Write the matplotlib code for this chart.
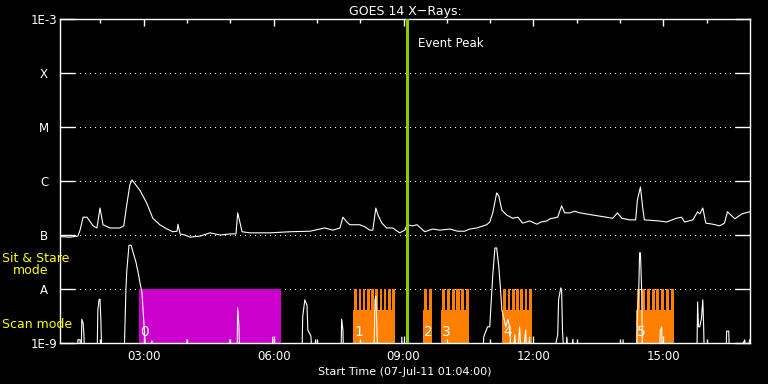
import numpy as np
import matplotlib
matplotlib.use("Agg")
import matplotlib.pyplot as plt

# time axis in hours of day (07-Jul-11), plot starts 01:04
t_start = 1 + 4 / 60.0
t_end = 17.0
event_peak = 9.08

# GOES 14 long channel (1-8 A), log10 of flux
long_t = [1.07, 1.30, 1.48, 1.53, 1.60, 1.69, 1.83, 1.92, 1.99, 2.06, 2.22, 2.45,
          2.54, 2.59, 2.68, 2.73, 2.91, 3.07, 3.21, 3.37, 3.54, 3.67, 3.77, 3.79,
          3.84, 3.95, 4.07, 4.30, 4.53, 4.76, 4.99, 5.13, 5.17, 5.22, 5.27, 5.45,
          5.91, 6.37, 6.84, 7.18, 7.37, 7.53, 7.60, 7.69, 7.76, 7.92, 7.99, 8.11,
          8.22, 8.29, 8.36, 8.41, 8.50, 8.61, 8.75, 8.91, 9.03, 9.08, 9.21, 9.31,
          9.49, 9.67, 9.84, 10.07, 10.25, 10.41, 10.53, 10.69, 10.92, 10.99, 11.06,
          11.15, 11.20, 11.27, 11.38, 11.52, 11.64, 11.75, 11.91, 12.08, 12.17,
          12.31, 12.38, 12.56, 12.65, 12.72, 12.84, 12.95, 13.07, 13.37, 13.83,
          13.94, 14.04, 14.22, 14.36, 14.40, 14.47, 14.52, 14.56, 14.91, 15.07,
          15.30, 15.42, 15.49, 15.68, 15.79, 15.84, 15.91, 15.98, 16.14, 16.30,
          16.41, 16.48, 16.65, 16.81, 16.99]
long_log = [-7.03, -7.04, -7.02, -6.91, -6.67, -6.67, -6.83, -6.87, -6.50, -6.81, -6.87, -6.87,
            -6.83, -6.54, -6.07, -5.98, -6.17, -6.41, -6.69, -6.81, -6.89, -6.94, -6.93, -6.80,
            -6.98, -7.00, -7.04, -7.02, -6.96, -7.00, -6.98, -6.98, -6.59, -6.76, -6.94, -6.96,
            -6.96, -6.94, -6.93, -6.87, -6.91, -6.87, -6.67, -6.76, -6.81, -6.81, -6.81, -6.85,
            -6.91, -6.91, -6.50, -6.63, -6.78, -6.87, -6.87, -6.96, -6.91, -6.81, -6.83, -6.81,
            -6.94, -6.89, -6.91, -6.89, -6.93, -6.93, -6.89, -6.87, -6.81, -6.76, -6.59,
            -6.22, -6.28, -6.54, -6.63, -6.69, -6.67, -6.78, -6.74, -6.80, -6.76,
            -6.74, -6.70, -6.67, -6.46, -6.59, -6.59, -6.56, -6.59, -6.63, -6.69,
            -6.59, -6.69, -6.72, -6.72, -6.35, -6.11, -6.48, -6.72, -6.74, -6.76,
            -6.69, -6.67, -6.76, -6.72, -6.57, -6.61, -6.50, -6.78, -6.80, -6.83,
            -6.78, -6.57, -6.70, -6.61, -6.57]

# short channel (0.5-4 A), log10 of flux; -9.5 = below the plot floor
short_t = [1.07, 1.46, 1.48, 1.53, 1.55, 1.57, 1.60, 1.62, 1.64,
           1.92, 1.94, 1.97, 1.99, 2.01, 2.04,
           2.54, 2.57, 2.59, 2.61, 2.66, 2.71, 2.75, 2.82, 2.87, 2.91, 2.96, 2.98, 3.03, 3.05,
           3.19, 3.21, 3.98, 4.00, 4.02, 4.97, 4.99, 5.01,
           5.15, 5.17, 5.20, 5.22, 5.96, 5.98, 6.01,
           6.65, 6.67, 6.72, 6.77, 6.79, 6.86, 6.91, 6.97, 7.00,
           7.55, 7.57, 7.60, 7.62, 8.31, 8.34, 8.36, 8.38, 8.41, 8.94, 8.96, 8.98,
           10.83, 10.85, 10.94, 10.99, 11.06, 11.11, 11.15, 11.20, 11.24, 11.27, 11.31,
           11.36, 11.41, 11.45, 11.50, 11.57, 11.61, 11.68, 11.73, 11.82, 11.86, 11.91, 11.94,
           12.38, 12.56, 12.58, 12.63, 12.65, 12.67, 12.72, 12.77, 12.84, 12.91, 12.95,
           14.04, 14.07, 14.09, 14.38, 14.40, 14.43, 14.45, 14.47, 14.50, 14.52,
           14.89, 14.93, 14.96, 14.98,
           15.77, 15.79, 15.81, 15.84, 15.88, 15.91, 15.93, 15.95,
           16.44, 16.46, 16.51, 16.53, 16.88, 16.90, 16.99]
short_log = [-9.5, -9.5, -8.94, -8.94, -9.5, -8.56, -8.63, -8.85, -9.5,
             -9.5, -8.39, -8.19, -8.19, -8.57, -9.5,
             -9.5, -8.57, -7.98, -7.65, -7.19, -7.19, -7.31, -7.50, -7.69, -7.87, -8.07, -8.33, -8.94, -9.5,
             -8.96, -9.5, -9.5, -8.94, -9.5, -9.5, -8.94, -9.5,
             -9.5, -8.35, -8.70, -9.5, -9.5, -8.89, -9.5,
             -9.5, -8.52, -8.20, -8.30, -8.76, -8.87, -9.5, -8.94, -9.5,
             -9.5, -8.56, -8.76, -9.5, -9.5, -8.20, -8.13, -8.57, -9.5, -9.5, -8.89, -9.5,
             -9.5, -8.89, -8.70, -8.70, -7.74, -7.24, -7.24, -7.59, -8.02, -8.39, -8.52,
             -8.70, -8.56, -8.70, -9.5, -8.85, -9.5, -8.70, -9.5, -8.76, -9.5, -8.89, -9.5,
             -9.5, -8.85, -8.20, -7.98, -8.02, -8.76, -9.5, -8.89, -9.5, -8.93, -9.5,
             -9.5, -8.94, -9.5, -9.5, -8.48, -8.07, -7.33, -7.33, -8.07, -9.5,
             -9.5, -8.76, -8.70, -9.5,
             -9.5, -8.24, -8.70, -8.70, -8.54, -8.20, -8.70, -9.5,
             -9.5, -8.78, -8.78, -9.5, -8.94, -9.5, -8.94]

# sit & stare period and the numbered scan blocks
stare_start, stare_end = 2.89, 6.17
scan_start = [7.83, 9.44, 9.86, 11.27, 14.36]
scan_end = [8.80, 9.65, 10.51, 11.96, 15.24]
scan_count = [10, 2, 6, 7, 8]
scan_base_top = 4.1e-9

level_vals = [1e-9, 1e-8, 1e-7, 1e-6, 1e-5, 1e-4, 1e-3]
level_names = ["1E-9", "A", "B", "C", "M", "X", "1E-3"]
hour_ticks = [3, 6, 9, 12, 15]

magenta = "#cc00cc"
orange = "#ff8000"
green = "#88cc00"
yellow = "#ffff00"

fig = plt.figure(figsize=(7.68, 3.84), dpi=100, facecolor="black")
ax = fig.add_axes([60 / 768, 41 / 384, 690 / 768, 324 / 384])
ax.set_facecolor("black")
ax.set_yscale("log")
ax.set_xlim(t_start, t_end)
ax.set_ylim(1e-9, 1e-3)

# dotted class levels
for lv in level_vals[1:-1]:
    ax.axhline(lv, color="white", lw=0.72, ls=(0, (1, 5)), zorder=0.5,
               antialiased=False)

# sit & stare block
ax.fill_between([stare_start, stare_end], 1e-9, 1e-8, color=magenta, lw=0, zorder=1)
ax.text(stare_start + 0.03, 10 ** -8.8, "0", color="white", fontsize=10,
        va="center", ha="left", zorder=5)

# scan blocks: solid base plus one stripe per scan
for i, (s, e, n) in enumerate(zip(scan_start, scan_end, scan_count)):
    ax.fill_between([s, e], 1e-9, scan_base_top, color=orange, lw=0, zorder=1)
    period = (e - s) / n
    lefts = s + period * (np.arange(n) + 0.34)
    ax.bar(lefts, 1e-8 - scan_base_top, width=period * 0.66, bottom=scan_base_top,
           align="edge", color=orange, lw=0, zorder=1)
    ax.text(s + 0.03, 10 ** -8.8, str(i + 1), color="white", fontsize=10,
            va="center", ha="left", zorder=5)

ax.plot(long_t, 10 ** np.array(long_log), color="white", lw=0.8, zorder=3)
ax.plot(short_t, 10 ** np.array(short_log), color="white", lw=0.8, zorder=3)

ax.axvline(event_peak, color=green, lw=2.2, zorder=4)
ax.text(event_peak + 0.25, 10 ** -3.45, "Event Peak", color="white", fontsize=8.5,
        va="center", ha="left")

# axes styling
for sp in ax.spines.values():
    sp.set_color("white")
    sp.set_linewidth(1.0)

ax.set_yticks(level_vals)
ax.set_yticklabels(level_names)
ax.yaxis.set_minor_locator(matplotlib.ticker.NullLocator())
ax.tick_params(axis="y", which="major", direction="in", length=10.5, width=1,
               color="white", labelcolor="white", labelsize=8.5, pad=11.5,
               left=True, right=True)
for lab in ax.get_yticklabels():
    lab.set_horizontalalignment("center")

ax.set_xticks(hour_ticks)
ax.set_xticklabels(["%02d:00" % h for h in hour_ticks])
ax.set_xticks(np.arange(2, 17), minor=True)
ax.tick_params(axis="x", which="major", direction="in", length=5, width=1,
               color="white", labelcolor="white", labelsize=8.5, pad=5,
               top=True, bottom=True)
ax.tick_params(axis="x", which="minor", direction="in", length=3, width=1,
               color="white", top=True, bottom=True)

ax.set_xlabel("Start Time (07-Jul-11 01:04:00)", color="white", fontsize=8, labelpad=3)
ax.set_title("GOES 14 X\u2212Rays:", color="white", fontsize=9, pad=3)

fig.text(2 / 768, 1 - 259 / 384, "Sit & Stare", color=yellow, fontsize=9, va="center")
fig.text(13 / 768, 1 - 271 / 384, "mode", color=yellow, fontsize=9, va="center")
fig.text(2 / 768, 1 - 324 / 384, "Scan mode", color=yellow, fontsize=9, va="center")

fig.savefig("out.png", dpi=100, facecolor="black")
